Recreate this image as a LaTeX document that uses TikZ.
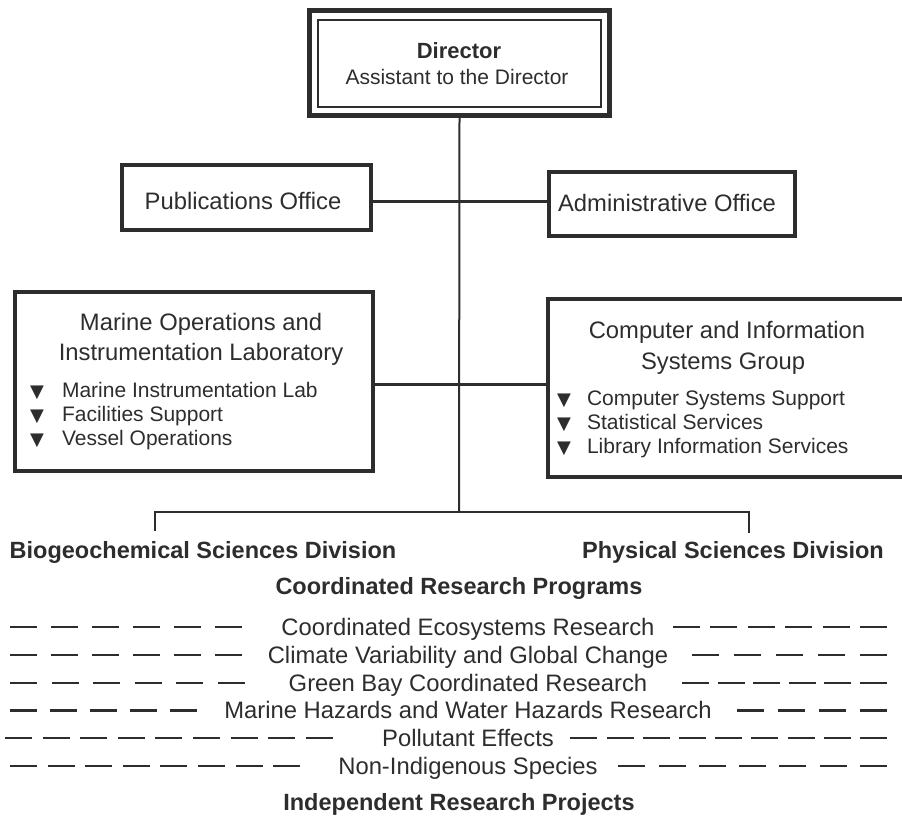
\documentclass[tikz,border=0pt]{standalone}
\usepackage{fontspec}
\setmainfont{Liberation Sans}
\newfontfamily\symfont{DejaVu Sans}
\definecolor{ink}{RGB}{45,45,45}
\newcommand\tri{{\symfont\fontsize{18}{18}\selectfont ▼}}
\begin{document}
\begin{tikzpicture}[x=1pt,y=-1pt,
  box/.style={draw=ink, line width=4pt, inner sep=0pt},
  txt/.style={text=ink, inner sep=0pt, anchor=base, font=\fontsize{23.8}{28}\selectfont},
  btxt/.style={text=ink, inner sep=0pt, anchor=base, font=\bfseries\fontsize{23.5}{28}\selectfont},
  lst/.style={text=ink, inner sep=0pt, anchor=base west, font=\fontsize{21}{24}\selectfont},
  conn/.style={draw=ink, line width=3pt},
  thinln/.style={draw=ink, line width=2pt},
  dashln/.style={draw=ink, line width=2.2pt, dash pattern=on 27pt off #1pt}]
\useasboundingbox (0,0) rectangle (902,817);

% Director
\node[draw=ink, line width=5pt, minimum width=300, minimum height=105, inner sep=0pt] (dir) at (459.5,63) {};
\node[draw=ink, line width=1.5pt, minimum width=283, minimum height=87, inner sep=0pt] (dirin) at (459.5,63.5) {};
\node[btxt, font=\bfseries\fontsize{22}{26}\selectfont] (dirt) at (459,58) {Director};
\node[txt, font=\fontsize{21}{25}\selectfont] (dira) at (457,84.5) {Assistant to the Director};

% Offices
\node[box, minimum width=249, minimum height=65] (pub) at (246.5,197.5) {};
\node[txt] (pubt) at (243,209.5) {Publications Office};
\node[box, minimum width=246, minimum height=64] (adm) at (672,204) {};
\node[txt] (admt) at (667,211.5) {Administrative Office};
\coordinate (ph) at (0,201);
\draw[conn] (pub.east |- ph) -- (adm.west |- ph);

% Laboratories
\node[box, minimum width=358, minimum height=179] (mar) at (194,381.5) {};
\node[txt] (mar1) at (201,330.5) {Marine Operations and};
\node[txt] (mar2) at (201,360.5) {Instrumentation Laboratory};
\node[lst] (marl1) at (30,397.5) {\tri\hspace{18pt}Marine Instrumentation Lab};
\node[lst] (marl2) at (30,421.5) {\tri\hspace{18pt}Facilities Support};
\node[lst] (marl3) at (30,445.5) {\tri\hspace{18pt}Vessel Operations};

\node[box, minimum width=362, minimum height=178] (cis) at (729,388) {};
\node[txt] (cis1) at (727,338.5) {Computer and Information};
\node[txt] (cis2) at (723,369.5) {Systems Group};
\node[lst] (cisl1) at (557,405.5) {\tri\hspace{16pt}Computer Systems Support};
\node[lst] (cisl2) at (557,429.5) {\tri\hspace{16pt}Statistical Services};
\node[lst] (cisl3) at (557,453.5) {\tri\hspace{16pt}Library Information Services};
\coordinate (mh) at (0,384);
\draw[conn] (mar.east |- mh) -- (cis.west |- mh);

% Trunk and bracket
\coordinate (split) at (459,512);
\coordinate (bl) at (155,531);
\coordinate (br) at (749,533);
\draw[thinln] (dir.south) -- (split);
\draw[thinln] (bl) -- (bl |- split) -- (br |- split) -- (br);

% Divisions
\node[btxt] (bio) at (203,558.5) {Biogeochemical Sciences Division};
\node[btxt] (phy) at (733,558.5) {Physical Sciences Division};
\node[btxt] (crp) at (459,594.5) {Coordinated Research Programs};

% Programs
\node[txt] (p1) at (468,635.5) {Coordinated Ecosystems Research};
\node[txt] (p2) at (468,663.3) {Climate Variability and Global Change};
\node[txt] (p3) at (468,691.1) {Green Bay Coordinated Research};
\node[txt] (p4) at (468,718.9) {Marine Hazards and Water Hazards Research};
\node[txt] (p5) at (468,746.7) {Pollutant Effects};
\node[txt] (p6) at (468,774.5) {Non-Indigenous Species};

\coordinate (a1) at (10,627);   \coordinate (b1) at (242,627);
\coordinate (c1) at (673,627);  \coordinate (d1) at (887,627);
\coordinate (a2) at (10,654.8); \coordinate (b2) at (242,654.8);
\coordinate (c2) at (692,654.8);\coordinate (d2) at (887,654.8);
\coordinate (a3) at (10,682.6); \coordinate (b3) at (245,682.6);
\coordinate (c3) at (682,682.6);\coordinate (d3) at (887,682.6);
\coordinate (a4) at (10,710.4); \coordinate (b4) at (197,710.4);
\coordinate (c4) at (737,710.4);\coordinate (d4) at (887,710.4);
\coordinate (a5) at (5,738.2);  \coordinate (b5) at (333,738.2);
\coordinate (c5) at (570,738.2);\coordinate (d5) at (887,738.2);
\coordinate (a6) at (10,766);   \coordinate (b6) at (300,766);
\coordinate (c6) at (618,766);  \coordinate (d6) at (887,766);

\draw[dashln=14]   (a1) -- (b1);  \draw[dashln=10.4] (d1) -- (c1);
\draw[dashln=14]   (a2) -- (b2);  \draw[dashln=15]   (d2) -- (c2);
\draw[dashln=14.6] (a3) -- (b3);  \draw[dashln=8.6]  (d3) -- (c3);
\draw[dashln=13]   (a4) -- (b4);  \draw[dashln=14]   (d4) -- (c4);
\draw[dashln=10.6] (a5) -- (b5);  \draw[dashln=9.2]  (d5) -- (c5);
\draw[dashln=10.6] (a6) -- (b6);  \draw[dashln=13.3] (d6) -- (c6);

\node[btxt] (irp) at (459,810) {Independent Research Projects};
\end{tikzpicture}
\end{document}
